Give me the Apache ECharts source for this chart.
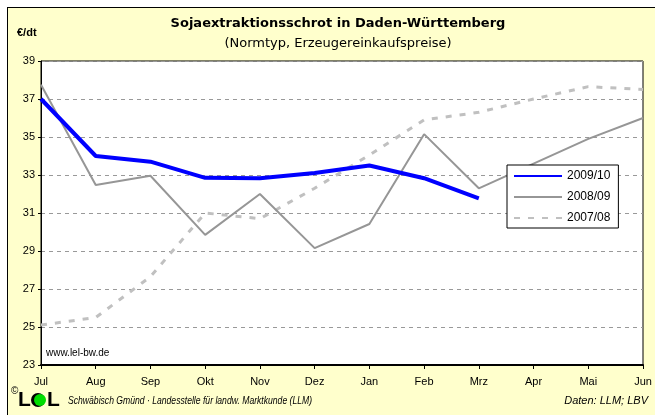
<!DOCTYPE html>
<html>
<head>
<meta charset="utf-8">
<script src="https://cdn.jsdelivr.net/npm/echarts@6/dist/echarts.min.js"></script>
<style>
html,body{margin:0;padding:0;background:#ffffff;}
#frame{position:absolute;left:7px;top:7px;width:700px;height:460px;background:#FFFFCC;border:1px solid #000;}
#c{position:absolute;left:0;top:0;width:655px;height:415px;}
</style>
</head>
<body>
<div id="frame"></div>
<div id="c"></div>
<script>
var months = ['Jul','Aug','Sep','Okt','Nov','Dez','Jan','Feb','Mrz','Apr','Mai','Jun'];
var s2009 = [37.0, 34.0, 33.7, 32.85, 32.83, 33.1, 33.5, 32.83, 31.77];
var s2008 = [37.75, 32.47, 32.96, 29.85, 32.0, 29.15, 30.42, 35.15, 32.3, 33.6, 34.9, 36.0];
var s2007 = [25.1, 25.5, 27.65, 31.0, 30.7, 32.3, 34.05, 35.9, 36.3, 37.0, 37.65, 37.5];
var yTicks = [23, 25, 27, 29, 31, 33, 35, 37, 39];

var FONT = 'Liberation Sans, Arial, sans-serif';
var chart = echarts.init(document.getElementById('c'));
chart.setOption({
  backgroundColor: 'transparent',
  animation: false,
  grid: {left: 41, right: 12, top: 61, bottom: 50, show: true, backgroundColor: '#ffffff', borderColor: '#000', borderWidth: 1},
  xAxis: {
    type: 'category', data: months, boundaryGap: false,
    axisLine: {lineStyle: {color: '#000', width: 2}},
    axisTick: {show: true, length: 4, lineStyle: {color: '#000', width: 1}},
    axisLabel: {color: '#000', fontSize: 11, fontFamily: FONT, margin: 11, interval: 0},
    splitLine: {show: false}
  },
  yAxis: {
    type: 'value', min: yTicks[0], max: yTicks[yTicks.length - 1], interval: 2,
    axisLine: {show: true, lineStyle: {color: '#000', width: 1}},
    axisTick: {show: true, length: 3, lineStyle: {color: '#000'}},
    axisLabel: {color: '#000', fontSize: 11, fontFamily: FONT, margin: 6},
    splitLine: {show: true, lineStyle: {color: '#999', width: 1, type: [4, 4]}}
  },
  legend: {
    orient: 'vertical', left: 507, top: 165,
    itemWidth: 48, itemHeight: 10, itemGap: 9,
    backgroundColor: '#fff', borderColor: '#000', borderWidth: 1, borderRadius: 0,
    padding: [5, 8, 4, 6],
    itemStyle: {opacity: 0},
    textStyle: {color: '#000', fontSize: 12, fontFamily: FONT},
    data: ['2009/10', '2008/09', '2007/08']
  },
  series: [
    {name: '2007/08', type: 'line', data: s2007, symbol: 'none', z: 2,
     lineStyle: {color: '#C0C0C0', width: 3, type: [6, 8]}, itemStyle: {color: '#C0C0C0'}},
    {name: '2008/09', type: 'line', data: s2008, symbol: 'none', z: 3,
     lineStyle: {color: '#969696', width: 2}, itemStyle: {color: '#969696'}},
    {name: '2009/10', type: 'line', data: s2009, symbol: 'none', z: 4,
     lineStyle: {color: '#0000FF', width: 4}, itemStyle: {color: '#0000FF'}}
  ],
  graphic: [
    {type: 'text', x: 338, y: 24, style: {text: 'Sojaextraktionsschrot in Daden-Württemberg', fontSize: 13, fontWeight: 'bold', fontFamily: 'DejaVu Sans', fill: '#000', align: 'center', verticalAlign: 'middle'}},
    {type: 'text', x: 338, y: 44, style: {text: '(Normtyp, Erzeugereinkaufspreise)', fontSize: 13, fontFamily: 'DejaVu Sans', fill: '#000', align: 'center', verticalAlign: 'middle'}},
    {type: 'text', x: 17, y: 33, style: {text: '€/dt', fontSize: 11, fontWeight: 'bold', fontFamily: FONT, fill: '#000', verticalAlign: 'middle'}},
    {type: 'text', x: 46, y: 353, z: 10, style: {text: 'www.lel-bw.de', fontSize: 10, fontFamily: FONT, fill: '#000', verticalAlign: 'middle'}},
    {type: 'text', x: 11, y: 391, style: {text: '©', fontSize: 10, fontFamily: FONT, fill: '#000', verticalAlign: 'middle'}},
    {type: 'text', x: 18, y: 400, style: {text: 'L', fontSize: 21, fontWeight: 'bold', fontFamily: FONT, fill: '#000', verticalAlign: 'middle'}},
    {type: 'circle', shape: {cx: 38, cy: 400, r: 7}, style: {fill: '#000'}},
    {type: 'circle', shape: {cx: 40, cy: 400, r: 6}, style: {fill: '#00DD00'}},
    {type: 'text', x: 47, y: 400, style: {text: 'L', fontSize: 21, fontWeight: 'bold', fontFamily: FONT, fill: '#000', verticalAlign: 'middle'}},
    {type: 'text', x: 68, y: 401, scaleX: 0.82, style: {text: 'Schwäbisch Gmünd · Landesstelle für landw. Marktkunde (LLM)', fontSize: 10.5, fontStyle: 'italic', fontFamily: FONT, fill: '#000', verticalAlign: 'middle'}},
    {type: 'text', x: 648, y: 401, style: {text: 'Daten: LLM; LBV', fontSize: 11, fontStyle: 'italic', fontFamily: FONT, fill: '#000', align: 'right', verticalAlign: 'middle'}}
  ]
});
</script>
</body>
</html>
